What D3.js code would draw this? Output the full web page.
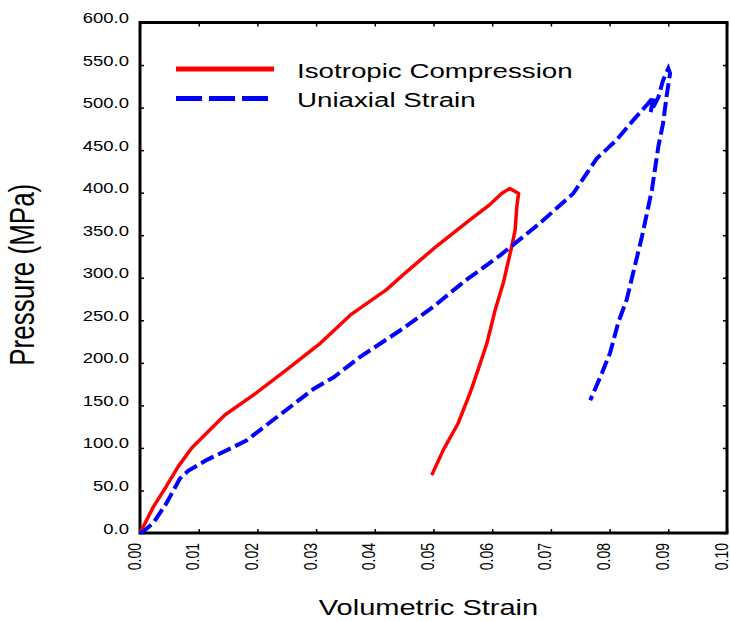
<!DOCTYPE html>
<html>
<head>
<meta charset="utf-8">
<script src="https://cdn.jsdelivr.net/npm/d3@7"></script>
<style>
  body { margin: 0; background: #fff; }
  text { font-family: "Liberation Sans", Arial, sans-serif; fill: #000; }
</style>
</head>
<body>
<div id="chart"></div>
<script>
// values: [volumetric strain, pressure MPa]
var isotropic = [
    [0, 0], [0.0023, 31], [0.0045, 55], [0.0065, 78], [0.0088, 100], [0.0117, 120],
    [0.0145, 139], [0.0193, 162], [0.025, 192], [0.0307, 223], [0.0335, 241],
    [0.0358, 256], [0.042, 286], [0.0454, 307], [0.0505, 337], [0.0562, 368],
    [0.0596, 386], [0.0616, 399], [0.063, 405], [0.0645, 399], [0.0642, 384],
    [0.0639, 356], [0.0633, 336], [0.0619, 294], [0.0605, 262], [0.0591, 223],
    [0.0575, 190], [0.0562, 164], [0.0542, 129], [0.0517, 98], [0.0497, 68]
];
var uniaxial = [
    [0, 0], [0.0006, 2], [0.0023, 12], [0.0045, 35], [0.0068, 64], [0.0082, 73],
    [0.0114, 86], [0.0159, 101], [0.0182, 109], [0.021, 124], [0.025, 145],
    [0.0295, 169], [0.033, 183], [0.0375, 207], [0.0443, 238], [0.05, 266],
    [0.0528, 282], [0.0557, 298], [0.0613, 326], [0.0681, 364], [0.0738, 399],
    [0.0778, 440], [0.0812, 462], [0.084, 485], [0.0866, 505], [0.0875, 513],
    [0.087, 495], [0.0883, 512], [0.0891, 532], [0.09, 546], [0.0903, 540],
    [0.0897, 513], [0.0891, 481], [0.0883, 454], [0.0872, 403], [0.0855, 348],
    [0.0829, 274], [0.0815, 248], [0.0801, 212], [0.0787, 188], [0.0767, 156]
];
var seriesNames = ["Isotropic Compression", "Uniaxial Strain"];
var xTicks = [0, 0.01, 0.02, 0.03, 0.04, 0.05, 0.06, 0.07, 0.08, 0.09, 0.10];
var yTicks = [0, 50, 100, 150, 200, 250, 300, 350, 400, 450, 500, 550, 600];

var W = 730, H = 621;
var SX = 1.32; // the picture's text is stretched sideways

var margin = {top: 22.5, right: 3, bottom: 88, left: 140},
    width = W - margin.left - margin.right,
    height = H - margin.top - margin.bottom;

var svg = d3.select("#chart").append("svg")
    .attr("width", W)
    .attr("height", H);

var g = svg.append("g").attr("transform", "translate(" + margin.left + "," + margin.top + ")");

var x = d3.scaleLinear().domain([0, 0.10]).range([0, width]);
var y = d3.scaleLinear().domain([0, 600]).range([height, 0]);

// ticks on all four sides, pointing inwards
g.append("g").attr("transform", "translate(0," + height + ")")
    .call(d3.axisBottom(x).tickValues(xTicks).tickSize(-4).tickFormat(""));
g.append("g")
    .call(d3.axisTop(x).tickValues(xTicks).tickSize(-4).tickFormat(""));
g.append("g")
    .call(d3.axisLeft(y).tickValues(yTicks).tickSize(-4).tickFormat(""));
g.append("g").attr("transform", "translate(" + width + ",0)")
    .call(d3.axisRight(y).tickValues(yTicks).tickSize(-4).tickFormat(""));
g.selectAll(".domain").remove();
g.selectAll(".tick line").attr("stroke", "#000").attr("stroke-width", 1.5);

// frame
g.append("rect")
    .attr("width", width).attr("height", height)
    .attr("fill", "none").attr("stroke", "#000").attr("stroke-width", 3);

function label(sel, px, py, rot, sx) {
    return sel.append("text")
        .attr("transform", "translate(" + px + "," + py + ") scale(" + (sx || SX) + ",1)" + (rot ? " rotate(-90)" : ""));
}

// y tick labels
yTicks.forEach(function(d) {
    label(g, -11, y(d) + 0.5, false)
        .attr("text-anchor", "end")
        .style("font-size", "14px")
        .text(d3.format(".1f")(d));
});

// x tick labels, rotated
xTicks.forEach(function(d) {
    label(g, x(d) + 0.5, height + 10, true, 1.25)
        .attr("text-anchor", "end")
        .style("font-size", "14px")
        .text(d3.format(".2f")(d));
});

label(g, width / 2 - 5, height + 82, false)
    .attr("text-anchor", "middle")
    .style("font-size", "22px")
    .text("Volumetric Strain");

label(svg, 34, margin.top + y(300) - 3, true)
    .attr("text-anchor", "middle")
    .style("font-size", "26px")
    .text("Pressure (MPa)");

var line = d3.line()
    .x(function(d) { return x(d[0]); })
    .y(function(d) { return y(d[1]); });

g.append("path").datum(isotropic)
    .attr("d", line)
    .attr("fill", "none").attr("stroke", "#ff0000")
    .attr("stroke-width", 3.5).attr("stroke-linejoin", "round");

g.append("path").datum(uniaxial)
    .attr("d", line)
    .attr("fill", "none").attr("stroke", "#0000ff")
    .attr("stroke-width", 4).attr("stroke-dasharray", "14,5");

// legend
var lg = svg.append("g");
var legendRows = [
    {name: seriesNames[0], color: "#ff0000", dash: null, y: 69, x2: 274},
    {name: seriesNames[1], color: "#0000ff", dash: "26,7", y: 98.5, x2: 268}
];
legendRows.forEach(function(r) {
    lg.append("line")
        .attr("x1", 176).attr("x2", r.x2)
        .attr("y1", r.y).attr("y2", r.y)
        .attr("stroke", r.color).attr("stroke-width", 5)
        .attr("stroke-dasharray", r.dash);
    label(lg, 297, r.y + 8.5, false)
        .style("font-size", "21px")
        .text(r.name);
});
</script>
</body>
</html>
